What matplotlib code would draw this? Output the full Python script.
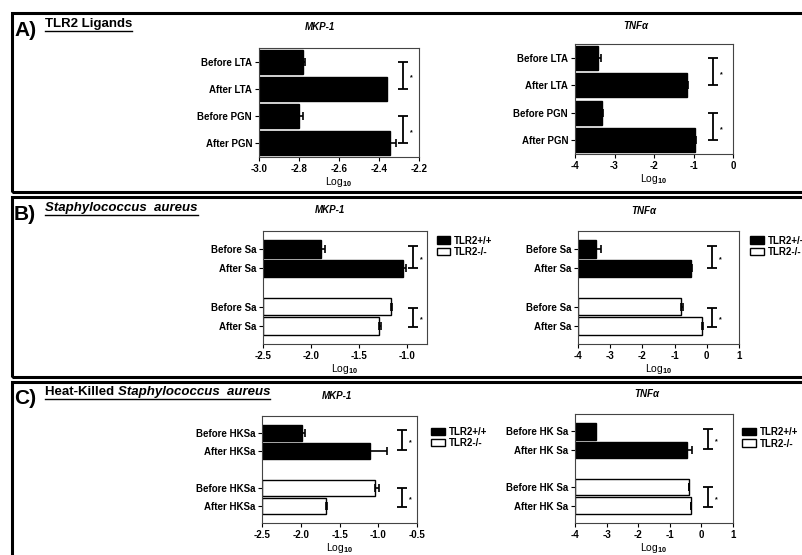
import numpy as np
import matplotlib.pyplot as plt
from matplotlib.patches import Rectangle
from matplotlib.lines import Line2D

plt.rcParams['font.family'] = ['Liberation Sans', 'DejaVu Sans']
plt.rcParams['font.weight'] = 'bold'
plt.rcParams['mathtext.fontset'] = 'custom'
plt.rcParams['mathtext.rm'] = 'Liberation Sans:bold'
plt.rcParams['mathtext.bf'] = 'Liberation Sans:bold'
plt.rcParams['mathtext.it'] = 'Liberation Sans:bold:italic'

W, H = 802, 555

# A) TLR2 ligands
a_labels = ["Before LTA", "After LTA", "Before PGN", "After PGN"]
a_mkp = [-2.78, -2.36, -2.80, -2.345]
a_mkp_err = [0.01, 0.0, 0.02, 0.03]
a_tnf = [-3.42, -1.17, -3.32, -0.96]
a_tnf_err = [0.07, 0.02, 0.04, 0.02]

# B) Staphylococcus aureus
b_labels = ["Before Sa", "After Sa", "Before Sa", "After Sa"]
b_mkp = [-1.90, -1.04, -1.17, -1.29]
b_mkp_err = [0.05, 0.03, 0.01, 0.02]
b_tnf = [-3.44, -0.49, -0.80, -0.15]
b_tnf_err = [0.16, 0.02, 0.07, 0.02]

# C) heat-killed S. aureus
c_mkp_labels = ["Before HKSa", "After HKSa", "Before HKSa", "After HKSa"]
c_tnf_labels = ["Before HK Sa", "After HK Sa", "Before HK Sa", "After HK Sa"]
c_mkp = [-1.98, -1.11, -1.04, -1.67]
c_mkp_err = [0.04, 0.22, 0.05, 0.01]
c_tnf = [-3.34, -0.46, -0.40, -0.33]
c_tnf_err = [0.02, 0.17, 0.02, 0.01]

genotypes = ["TLR2+/+", "TLR2-/-"]


def px(x, y):
    return x / W, 1 - y / H


def box(x0, y0, x1, y1):
    # pixel box -> axes rect
    return [x0 / W, 1 - y1 / H, (x1 - x0) / W, (y1 - y0) / H]


fig = plt.figure(figsize=(W / 100, H / 100), dpi=100)


def bar_panel(rect, labels, vals, errs, xlim, xticks, fmt, brk_x, pairs,
              grouped=False, legend_at=None):
    ax = fig.add_axes(rect)
    x0 = xlim[0]
    if grouped:
        pos = np.array([0, 1, 3, 4])
        colors = ["black", "black", "white", "white"]
        hgt = 0.9
    else:
        pos = np.arange(4)
        colors = ["black"] * 4
        hgt = 0.88
    vals = np.array(vals)
    bars = ax.barh(pos, vals - x0, left=x0, height=hgt, color=colors,
                   edgecolor="black", linewidth=1.0)
    ax.errorbar(vals, pos, xerr=[np.zeros(4), errs], fmt="none",
                ecolor="black", elinewidth=1.2, capsize=3, capthick=1.2)
    for lo, hi in pairs:
        ax.errorbar([brk_x], [(lo + hi) / 2], yerr=[(hi - lo) / 2], fmt="none",
                    ecolor="black", elinewidth=1.3, capsize=3.5, capthick=1.3)
        ax.annotate("*", ((brk_x), (lo + hi) / 2), xytext=(5, -2),
                    textcoords="offset points", fontsize=5, va="center")
    ax.set_xlim(*xlim)
    if grouped:
        ax.set_ylim(4.93, -0.93)
    else:
        ax.set_ylim(3.5, -0.5)
    ax.set_yticks(pos)
    ax.set_yticklabels(labels)
    ax.set_xticks(xticks)
    ax.set_xticklabels([fmt.format(t) for t in xticks])
    ax.tick_params(direction="out", length=3, width=0.8, labelsize=7, pad=2)
    for s in ax.spines.values():
        s.set_linewidth(0.8)
        s.set_color("#444444")
    ax.set_xlabel(r"Log$_{10}$", fontsize=7.5, labelpad=0.5)
    if legend_at is not None:
        ax.legend([bars[0], bars[2]], genotypes, loc="upper left",
                  bbox_to_anchor=legend_at, frameon=False, fontsize=7,
                  handlelength=1.4, handleheight=0.8, handletextpad=0.4,
                  labelspacing=0.15, borderpad=0, borderaxespad=0)
    return ax


# panel A
bar_panel(box(259, 48, 419, 157), a_labels, a_mkp, a_mkp_err, (-3.0, -2.2),
          [-3.0, -2.8, -2.6, -2.4, -2.2], "{:.1f}", -2.28, [(0, 1), (2, 3)])
bar_panel(box(575, 44, 733, 154), a_labels, a_tnf, a_tnf_err, (-4, 0),
          [-4, -3, -2, -1, 0], "{:.0f}", -0.5, [(0, 1), (2, 3)])

# panel B
bar_panel(box(263, 231, 427, 344), b_labels, b_mkp, b_mkp_err, (-2.5, -0.79),
          [-2.5, -2.0, -1.5, -1.0], "{:.1f}", -0.94, [(-0.15, 1.0), (3.05, 4.05)],
          grouped=True, legend_at=(1.06, 0.96))
bar_panel(box(578, 231, 739, 344), b_labels, b_tnf, b_tnf_err, (-4, 1),
          [-4, -3, -2, -1, 0, 1], "{:.0f}", 0.17, [(-0.15, 1.0), (3.05, 4.05)],
          grouped=True, legend_at=(1.07, 0.96))

# panel C
bar_panel(box(262, 416, 417, 523), c_mkp_labels, c_mkp, c_mkp_err, (-2.5, -0.5),
          [-2.5, -2.0, -1.5, -1.0, -0.5], "{:.1f}", -0.69,
          [(-0.15, 0.95), (3.0, 4.05)], grouped=True, legend_at=(1.09, 0.9))
bar_panel(box(575, 414, 733, 523), c_tnf_labels, c_tnf, c_tnf_err, (-4, 1),
          [-4, -3, -2, -1, 0, 1], "{:.0f}", 0.2,
          [(-0.15, 0.95), (3.0, 4.05)], grouped=True, legend_at=(1.06, 0.88))

# gene titles
for x, y, t in [(320, 27, "MKP-1"), (637, 25, r"TNF$\alpha$"),
                (330, 210, "MKP-1"), (645, 210, r"TNF$\alpha$"),
                (337, 396, "MKP-1"), (648, 393, r"TNF$\alpha$")]:
    fig.text(*px(x, y), t, fontsize=7, style="italic", ha="center", va="center")

# panel frames
for y0, y1 in [(13, 192), (197, 377), (382, 562)]:
    fig.patches.append(Rectangle(px(12, y1), (812 - 12) / W, (y1 - y0) / H,
                                 transform=fig.transFigure, fill=False,
                                 linewidth=2.2, edgecolor="black"))

# panel headings
heads = [(30, "A)", [("TLR2 Ligands", "normal")]),
         (214, "B)", [("Staphylococcus  aureus", "italic")]),
         (398, "C)", [("Heat-Killed ", "normal"), ("Staphylococcus  aureus", "italic")])]
fig.canvas.draw()
r = fig.canvas.get_renderer()
for y, lab, parts in heads:
    fig.text(*px(14, y), lab, fontsize=15, va="center")
    x = 45
    start = x
    for txt, st in parts:
        t = fig.text(*px(x, y - 6), txt, fontsize=9.5, style=st, va="center")
        bb = t.get_window_extent(r)
        x += bb.width
    uy = y + 1
    fig.add_artist(Line2D([start / W, x / W], [1 - uy / H, 1 - uy / H],
                          transform=fig.transFigure, color="black", linewidth=1.0))

fig.savefig("out.png", dpi=100)
